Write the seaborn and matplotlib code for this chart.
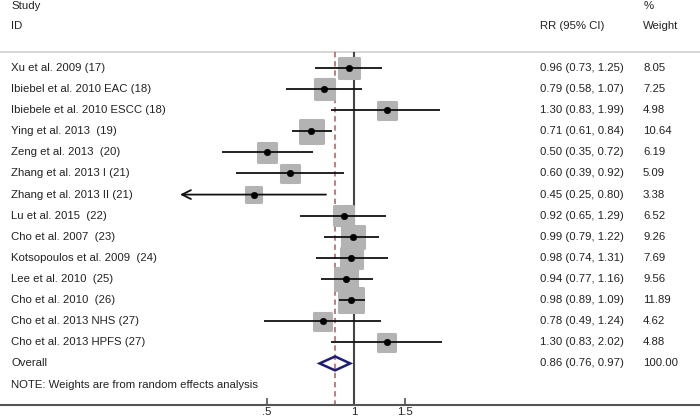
import numpy as np
import matplotlib
matplotlib.use("Agg")
import matplotlib.pyplot as plt
import seaborn as sns

# Datos del forest plot
studies = [
    "Xu et al. 2009 (17)",
    "Ibiebel et al. 2010 EAC (18)",
    "Ibiebele et al. 2010 ESCC (18)",
    "Ying et al. 2013  (19)",
    "Zeng et al. 2013  (20)",
    "Zhang et al. 2013 I (21)",
    "Zhang et al. 2013 II (21)",
    "Lu et al. 2015  (22)",
    "Cho et al. 2007  (23)",
    "Kotsopoulos et al. 2009  (24)",
    "Lee et al. 2010  (25)",
    "Cho et al. 2010  (26)",
    "Cho et al. 2013 NHS (27)",
    "Cho et al. 2013 HPFS (27)",
]
rr = [0.96, 0.79, 1.30, 0.71, 0.50, 0.60, 0.45, 0.92, 0.99, 0.98, 0.94, 0.98, 0.78, 1.30]
lower = [0.73, 0.58, 0.83, 0.61, 0.35, 0.39, 0.25, 0.65, 0.79, 0.74, 0.77, 0.89, 0.49, 0.83]
upper = [1.25, 1.07, 1.99, 0.84, 0.72, 0.92, 0.80, 1.29, 1.22, 1.31, 1.16, 1.09, 1.24, 2.02]
weights = [8.05, 7.25, 4.98, 10.64, 6.19, 5.09, 3.38, 6.52, 9.26, 7.69, 9.56, 11.89, 4.62, 4.88]
clipped = [False, False, False, False, False, False, True, False, False, False, False, False, False, False]

overall_rr = 0.86
overall_lo = 0.76
overall_hi = 0.97

xticks = [0.5, 1, 1.5]
xtick_labels = [".5", "1", "1.5"]

sns.set_style("white")
plt.rcParams["font.family"] = ["Liberation Sans", "DejaVu Sans"]

W, H = 700, 419
fig = plt.figure(figsize=(W / 100, H / 100), dpi=100)
ax = fig.add_axes([0, 14 / H, 1, 405 / H])

rows = np.arange(len(studies))
row_ov = len(studies)
row_note = row_ov + 1
y_top = -0.76
y_bot = 15.97

ax.set_xscale("log")
ax.set_xlim(np.exp(-354 / 125.5), np.exp(346 / 125.5))
ax.set_ylim(y_bot, -3.22)

# lineas de referencia
ax.axhline(y_top, color="#cfcfcf", lw=1.2, zorder=1)
ax.vlines(1, y_top, y_bot, color="#444444", lw=1.5, zorder=1)
ax.vlines(overall_rr, y_top, y_bot, color="#b05a5a", lw=1.1,
          linestyles=(0, (3.5, 2.5)), zorder=1)

# cajas grises por peso
side_px = 5.6 * np.sqrt(weights) + 4.7
sizes = (side_px * 0.72) ** 2
sns.scatterplot(x=rr, y=rows, s=sizes, marker="s", color="#b3b3b3",
                edgecolor="#b3b3b3", linewidth=2.2, joinstyle="round",
                ax=ax, zorder=2, legend=False)

# intervalos de confianza
for i in rows:
    if clipped[i]:
        ax.annotate("", xy=(lower[i], i), xytext=(upper[i], i),
                    arrowprops=dict(arrowstyle="->", color="#111111", lw=1.3,
                                    mutation_scale=16, shrinkA=0, shrinkB=0),
                    zorder=3)
    else:
        ax.hlines(i, lower[i], upper[i], color="#111111", lw=1.3, zorder=3)

sns.scatterplot(x=rr, y=rows, s=22, color="black", edgecolor="black",
                ax=ax, zorder=4, legend=False)

# diamante global
h = 0.33
ax.fill([overall_lo, overall_rr, overall_hi, overall_rr, overall_lo],
        [row_ov, row_ov - h, row_ov, row_ov + h, row_ov],
        facecolor="none", edgecolor="#1c1c7a", lw=1.8, zorder=5)

# textos
tc = "#222222"
fs = 8.2
tx = ax.get_yaxis_transform()
ax.text(11 / W, -2.94, "Study", transform=tx, fontsize=fs, color=tc, va="center")
ax.text(11 / W, -2.0, "ID", transform=tx, fontsize=fs, color=tc, va="center")
ax.text(540 / W, -2.0, "RR (95% CI)", transform=tx, fontsize=fs, color=tc, va="center")
ax.text(644 / W, -2.94, "%", transform=tx, fontsize=fs, color=tc, va="center")
ax.text(643 / W, -2.0, "Weight", transform=tx, fontsize=fs, color=tc, va="center")

for i in rows:
    ax.text(11 / W, i, studies[i], transform=tx, fontsize=fs, color=tc, va="center")
    ax.text(540 / W, i, f"{rr[i]:.2f} ({lower[i]:.2f}, {upper[i]:.2f})",
            transform=tx, fontsize=fs, color=tc, va="center")
    ax.text(643 / W, i, f"{weights[i]:.2f}", transform=tx, fontsize=fs,
            color=tc, va="center")

ax.text(11 / W, row_ov, "Overall", transform=tx, fontsize=fs, color=tc, va="center")
ax.text(540 / W, row_ov, f"{overall_rr:.2f} ({overall_lo:.2f}, {overall_hi:.2f})",
        transform=tx, fontsize=fs, color=tc, va="center")
ax.text(643 / W, row_ov, f"{sum(weights):.2f}", transform=tx, fontsize=fs,
        color=tc, va="center")
ax.text(11 / W, row_note, "NOTE: Weights are from random effects analysis",
        transform=tx, fontsize=fs, color=tc, va="center")

# eje x
for s in ["top", "left", "right"]:
    ax.spines[s].set_visible(False)
ax.spines["bottom"].set_color("#555555")
ax.spines["bottom"].set_linewidth(1.5)
ax.set_xticks(xticks)
ax.set_xticklabels(xtick_labels)
ax.xaxis.set_minor_locator(matplotlib.ticker.NullLocator())
ax.tick_params(axis="x", direction="in", length=5, width=1.2, color="#555555",
               labelsize=fs, labelcolor=tc, pad=1.5, bottom=True)
ax.set_yticks([])
ax.set_xlabel("")
ax.set_ylabel("")

fig.savefig("out.png", dpi=100)
